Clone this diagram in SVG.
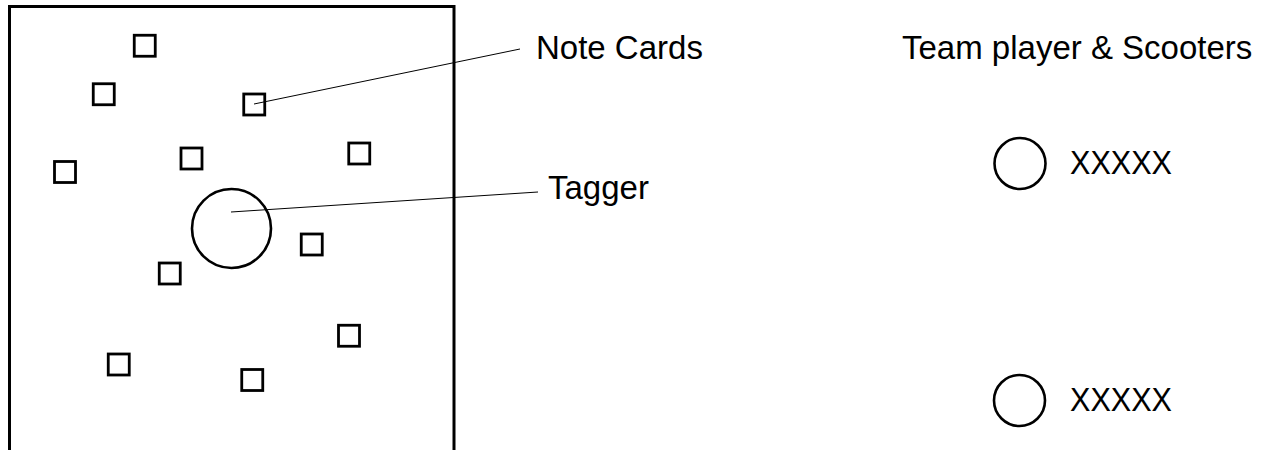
<svg xmlns="http://www.w3.org/2000/svg" width="1265" height="450" viewBox="0 0 1265 450">
<style>
.card{fill:none;stroke:#000;stroke-width:2.8}
.ring{fill:none;stroke:#000;stroke-width:2.6}
.lead{fill:none;stroke:#000;stroke-width:1}
.lbl{font-family:"Liberation Sans",Arial,sans-serif;font-size:33px;fill:#000}
</style>
<rect x="0" y="0" width="1265" height="450" fill="#fff"/>
<g id="field"><rect x="9.5" y="6.5" width="444.5" height="445.5" fill="none" stroke="#000" stroke-width="3"/></g>
<g id="cards">
<rect class="card" x="134.25" y="35.25" width="21" height="21"/>
<rect class="card" x="93.25" y="83.75" width="21" height="21"/>
<rect class="card" x="243.75" y="94" width="21" height="21"/>
<rect class="card" x="181" y="148" width="21" height="21"/>
<rect class="card" x="348.75" y="143" width="21" height="21"/>
<rect class="card" x="54.5" y="161.5" width="21" height="21"/>
<rect class="card" x="301.25" y="234" width="21" height="21"/>
<rect class="card" x="159.25" y="263" width="21" height="21"/>
<rect class="card" x="338.5" y="325.25" width="21" height="21"/>
<rect class="card" x="108.25" y="354" width="21" height="21"/>
<rect class="card" x="241.75" y="369.5" width="21" height="21"/>
</g>
<g id="tagger"><circle class="ring" cx="231.5" cy="228.5" r="39.5"/></g>
<g id="connectors">
<line class="lead" x1="254" y1="104" x2="520" y2="49"/>
<line class="lead" x1="231" y1="212" x2="538" y2="192"/>
</g>
<g id="label-notecards"><text class="lbl" x="536" y="59">Note Cards</text></g>
<g id="label-tagger"><text class="lbl" x="548" y="199">Tagger</text></g>
<g id="label-team"><text class="lbl" x="902" y="59">Team player &amp; Scooters</text></g>
<g id="player1"><circle class="ring" cx="1020" cy="163.5" r="25.5"/><text class="lbl" x="1070" y="174" textLength="102" lengthAdjust="spacingAndGlyphs">XXXXX</text></g>
<g id="player2"><circle class="ring" cx="1019.5" cy="400.5" r="25.5"/><text class="lbl" x="1070" y="411" textLength="102" lengthAdjust="spacingAndGlyphs">XXXXX</text></g>
</svg>
